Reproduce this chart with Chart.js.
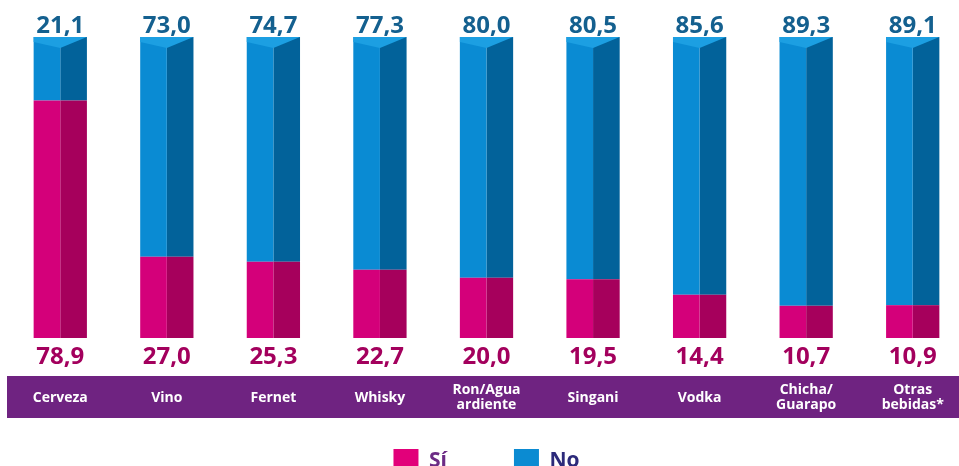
<!DOCTYPE html>
<html>
<head>
<meta charset="utf-8">
<script src="https://cdn.jsdelivr.net/npm/chart.js@4.4.1/dist/chart.umd.min.js"></script>
<style>
  html, body { margin: 0; padding: 0; background: #fff; overflow: hidden; }
  #wrap { position: absolute; left: 0; top: 0; width: 970px; height: 484px; }
</style>
</head>
<body>
<div id="wrap"><canvas id="chart"></canvas></div>
<script>
// datos
const categories = [
  'Cerveza', 'Vino', 'Fernet', 'Whisky', ['Ron/Agua', 'ardiente'],
  'Singani', 'Vodka', ['Chicha/', 'Guarapo'], ['Otras', 'bebidas*']
];
const si = [78.9, 27.0, 25.3, 22.7, 20.0, 19.5, 14.4, 10.7, 10.9];
const no = [21.1, 73.0, 74.7, 77.3, 80.0, 80.5, 85.6, 89.3, 89.1];

const fmt = v => v.toFixed(1).replace('.', ',');

// etiquetas de valores + tapa superior de la barra
const valueLabels = {
  id: 'valueLabels',
  afterDatasetsDraw(chart) {
    const ctx = chart.ctx;
    const siL = chart.getDatasetMeta(0).data;
    const noL = chart.getDatasetMeta(2).data;
    const noR = chart.getDatasetMeta(3).data;
    ctx.save();
    siL.forEach((bar, i) => {
      const top = noL[i];
      const right = noR[i];
      const left = top.x - top.width / 2;
      const mid = top.x + top.width / 2;
      const end = right.x + right.width / 2;

      // tapa
      ctx.fillStyle = '#1c9fe2';
      ctx.beginPath();
      ctx.moveTo(left, top.y);
      ctx.lineTo(end, top.y);
      ctx.lineTo(mid, top.y + 11);
      ctx.lineTo(left, top.y + 5);
      ctx.closePath();
      ctx.fill();

      ctx.font = 'bold 24px "Open Sans"';
      ctx.textAlign = 'center';
      ctx.textBaseline = 'alphabetic';
      ctx.fillStyle = '#14608f';
      ctx.fillText(fmt(no[i]), mid, top.y - 4);
      ctx.fillStyle = '#a3005d';
      ctx.fillText(fmt(si[i]), mid, bar.base + 26);
    });
    ctx.restore();
  }
};

// franja morada detras de las categorias
const band = {
  id: 'band',
  beforeDraw(chart) {
    const ctx = chart.ctx;
    ctx.save();
    ctx.fillStyle = '#6f2381';
    ctx.fillRect(7, 376, 960, 42);
    ctx.restore();
  },
  // el eje se declara bajo para dejar sitio a la leyenda; ampliar el recorte de etiquetas
  afterLayout(chart) {
    const x = chart.scales.x;
    x.bottom = x.top + 100;
  }
};

new Chart(document.getElementById('chart'), {
  type: 'bar',
  data: {
    labels: categories,
    datasets: [
      { label: 'Sí', data: si, backgroundColor: '#d4007a', stack: 'a' },
      { label: 'Sí', data: si, backgroundColor: '#a6005c', stack: 'b' },
      { label: 'No', data: no, backgroundColor: '#0a8bd3', stack: 'a' },
      { label: 'No', data: no, backgroundColor: '#02629a', stack: 'b' }
    ]
  },
  options: {
    responsive: true,
    maintainAspectRatio: false,
    animation: false,
    layout: { padding: { top: 37, left: 7, right: 4, bottom: 0 } },
    datasets: {
      bar: { categoryPercentage: 0.5, barPercentage: 1, borderWidth: 0 }
    },
    scales: {
      x: {
        stacked: true,
        grid: { display: false, drawTicks: false },
        border: { display: false },
        ticks: {
          color: '#ffffff',
          font: { family: 'Open Sans', weight: 'bold', size: 14, lineHeight: 1.1 },
          padding: 52,
          crossAlign: 'center',
          maxRotation: 0,
          autoSkip: false
        },
        afterFit(scale) {
          scale.height = 44;
          scale.paddingLeft = 0;
          scale.paddingRight = 0;
        }
      },
      y: {
        stacked: true,
        display: false,
        min: 0,
        max: 100
      }
    },
    plugins: {
      tooltip: { enabled: false },
      legend: {
        position: 'bottom',
        labels: {
          boxWidth: 25,
          boxHeight: 25,
          padding: 67,
          font: { family: 'Open Sans', weight: 'bold', size: 21 },
          generateLabels(chart) {
            return [
              { text: 'Sí', fillStyle: '#e2007a', strokeStyle: '#e2007a', lineWidth: 0, fontColor: '#6c2b85', datasetIndex: 0 },
              { text: 'No', fillStyle: '#0b8bd2', strokeStyle: '#0b8bd2', lineWidth: 0, fontColor: '#2c2a7a', datasetIndex: 2 }
            ];
          }
        },
        onClick: null
      }
    }
  },
  plugins: [band, valueLabels]
});
</script>
</body>
</html>
